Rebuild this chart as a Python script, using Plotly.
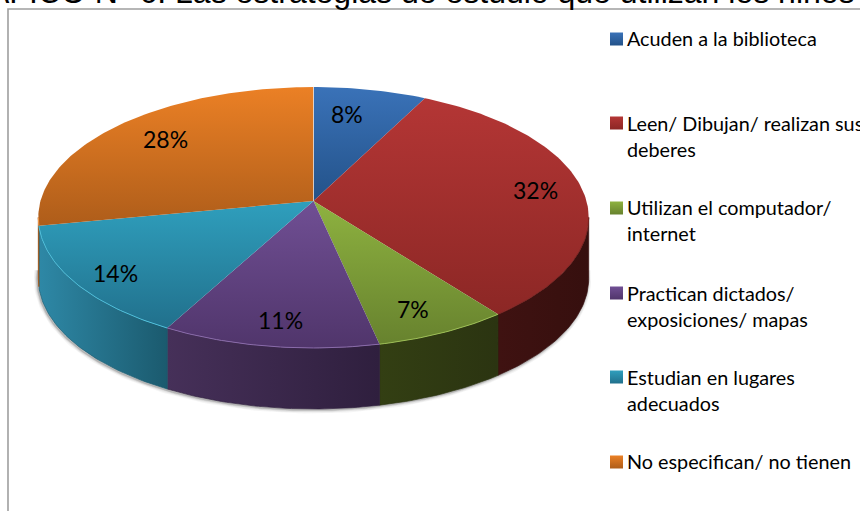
import math
import plotly.graph_objects as go

# ---------- data ----------
categories = ["Acuden a la biblioteca", "Leen/ Dibujan/ realizan sus<br>deberes",
              "Utilizan el computador/<br>internet", "Practican dictados/<br>exposiciones/ mapas",
              "Estudian en lugares<br>adecuados", "No especifican/ no tienen"]
values = [7.5, 32.1, 7.0, 11.3, 14.1, 28.0]
title_text = "GRÁFICO N° 6: Las estrategias de estudio que utilizan los niños"

# ---------- style ----------
top_light = ["#3a72b8", "#b43635", "#8eb240", "#704f94", "#2f9fbd", "#eb8025"]
top_dark = ["#235289", "#8c2725", "#67822e", "#50356b", "#21708c", "#ae5d1a"]
side_light = ["#1e4670", "#3f1211", "#333f13", "#463059", "#2e88a6", "#9a5216"]
side_dark = ["#1e4670", "#360f0e", "#2b3411", "#2f1f3e", "#1b5a6e", "#9a5216"]
rim = ["#5f90cc", "#7a2422", "#9dbf55", "#8a6bab", "#4fc0dc", "#f09a4c"]
label_r = [0.753, 0.8285, 0.828, 0.837, 0.855, 0.772]
label_nudge = [-3.2, -0.8, 1.4, -0.6, -1.6, 2.2]
legend_rows = [39, 123, 208, 293, 377, 462]
legend_text_y = [38, 135.5, 220, 306, 390, 461]

CX, CY, A, B, K, DEPTH = 313.5, 201.0, 273.0, 128.4, 0.1264, 61.0
TH_R, TH_L = 90 + math.degrees(math.asin(K)), 270 - math.degrees(math.asin(K))


def project(deg, r=1.0, drop=0.0):
    t = math.radians(deg)
    u, v = r * math.sin(t), r * math.cos(t)
    w = 1 + K * v
    return CX + A * u / w, CY - B * v / w + drop


def arc(d0, d1, drop=0.0, step=1.0):
    n = max(2, int(abs(d1 - d0) / step) + 1)
    pts = [project(d0 + (d1 - d0) * i / (n - 1), 1.0, drop) for i in range(n)]
    return [p[0] for p in pts], [p[1] for p in pts]


total = sum(values)
edges = [0.0]
for val in values:
    edges.append(edges[-1] + val / total * 360)

fig = go.Figure()

# soft shadow below the disc
sx, sy = arc(TH_R - 4, TH_L + 4, DEPTH + 1)
for width, alpha in [(7, 0.05), (5, 0.07), (3, 0.12), (1.5, 0.2)]:
    fig.add_trace(go.Scatter(x=[p - 1 for p in sx], y=sy, mode="lines", hoverinfo="skip",
                             line=dict(color=f"rgba(60,60,60,{alpha})", width=width)))

# side walls
for i in range(6):
    a0, a1 = max(edges[i], TH_R), min(edges[i + 1], TH_L)
    if a1 <= a0:
        continue
    xt, yt = arc(a0, a1)
    xb, yb = arc(a1, a0, DEPTH)
    xs, ys = xt + xb + xt[:1], yt + yb + yt[:1]
    left_first = xt[0] > xt[-1]
    c0, c1 = (side_light[i], side_dark[i]) if left_first else (side_dark[i], side_light[i])
    fig.add_trace(go.Scatter(
        x=xs, y=ys, mode="lines", fill="toself", hoverinfo="skip",
        line=dict(width=0.7, color=side_dark[i]),
        fillgradient=dict(type="horizontal", start=min(xs), stop=max(xs),
                          colorscale=[[0, c0], [1, c1]])))

# top faces
for i in range(6):
    xa, ya = arc(edges[i], edges[i + 1])
    xs, ys = [CX] + xa + [CX], [CY] + ya + [CY]
    fig.add_trace(go.Scatter(
        x=xs, y=ys, mode="lines", fill="toself", hoverinfo="skip", line=dict(width=0),
        fillgradient=dict(type="vertical", start=min(ys), stop=max(ys),
                          colorscale=[[0, top_light[i]], [1, top_dark[i]]])))

# rim highlight along the front edge
for i in range(6):
    a0, a1 = max(edges[i], TH_R), min(edges[i + 1], TH_L)
    if a1 > a0:
        xa, ya = arc(a0, a1)
        fig.add_trace(go.Scatter(x=xa, y=ya, mode="lines", hoverinfo="skip",
                                 line=dict(color=rim[i], width=1.0)))

# hairline between last and first slice
x12, y12 = project(0)
fig.add_trace(go.Scatter(x=[CX, x12], y=[CY, y12], mode="lines", hoverinfo="skip",
                         line=dict(color="rgba(255,255,255,0.55)", width=1)))

# legend keys
fig.add_trace(go.Scatter(
    x=[616.5] * 6, y=legend_rows, mode="markers", hoverinfo="skip",
    marker=dict(symbol="square", size=13, color=top_light, line=dict(width=0),
                gradient=dict(type="vertical", color=top_dark))))

anns = []
for i, val in enumerate(values):
    mid = (edges[i] + edges[i + 1]) / 2 + label_nudge[i]
    lx, ly = project(mid, label_r[i])
    anns.append(dict(x=lx, y=ly, text=f"{round(val)}%", showarrow=False, xanchor="center",
                     yanchor="middle", font=dict(family="Lato", size=23, color="#000000")))
for cat, y in zip(categories, legend_text_y):
    anns.append(dict(x=625, y=y, text=cat, showarrow=False, xanchor="left", yanchor="middle",
                     align="left", font=dict(family="Lato", size=19.8, color="#000000")))
anns.append(dict(xref="paper", yref="paper", x=-0.072, y=1.0147, text=title_text, showarrow=False,
                 xanchor="left", yanchor="middle",
                 font=dict(family="Liberation Sans", size=32, color="#000000")))

fig.update_layout(
    width=860, height=511, margin=dict(l=0, r=0, t=0, b=0), showlegend=False,
    paper_bgcolor="#ffffff", plot_bgcolor="#ffffff",
    xaxis=dict(range=[0, 860], visible=False, fixedrange=True),
    yaxis=dict(range=[511, 0], visible=False, fixedrange=True),
    annotations=anns,
    shapes=[dict(type="rect", xref="x", yref="y", x0=8, y0=9, x1=900, y1=560,
                 line=dict(color="#9f9f9f", width=1.6), layer="below")],
)
fig.write_html("out.html", config={"displayModeBar": False},
               post_script="document.body.style.margin='0';document.body.style.overflow='hidden';")
